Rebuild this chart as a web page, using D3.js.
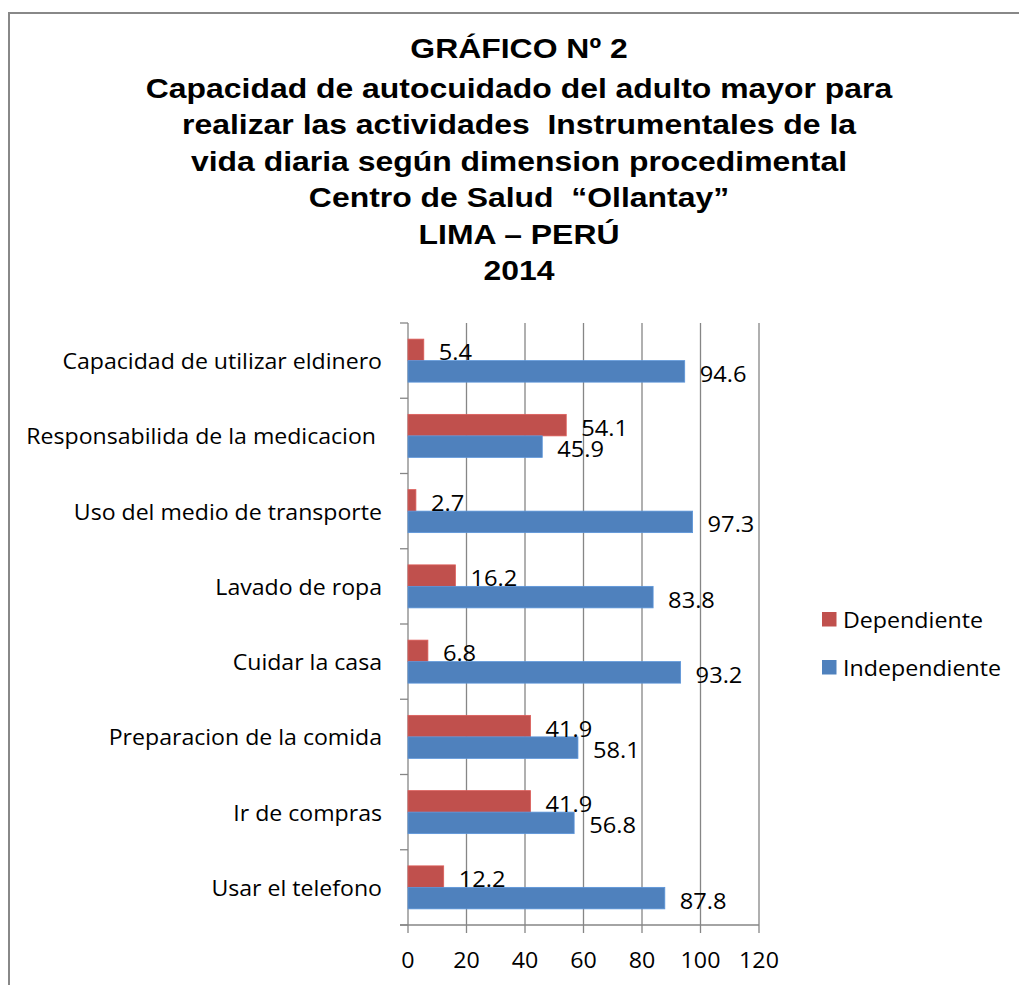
<!DOCTYPE html>
<html>
<head>
<meta charset="utf-8">
<script src="https://cdn.jsdelivr.net/npm/d3@7"></script>
<style>
  html, body { margin: 0; padding: 0; background: #fff; }
  svg { display: block; }
  text { white-space: pre; }
</style>
</head>
<body>
<svg id="chart" width="1019" height="985"></svg>
<script>
const titleLines = [
  "GRÁFICO Nº 2",
  "Capacidad de autocuidado del adulto mayor para",
  "realizar las actividades  Instrumentales de la",
  "vida diaria según dimension procedimental",
  "Centro de Salud  “Ollantay”",
  "LIMA – PERÚ",
  "2014"
];
const categories = [
  "Capacidad de utilizar eldinero",
  "Responsabilida de la medicacion ",
  "Uso del medio de transporte",
  "Lavado de ropa",
  "Cuidar la casa",
  "Preparacion de la comida",
  "Ir de compras",
  "Usar el telefono"
];
const seriesNames = ["Dependiente", "Independiente"];
const dependiente = [5.4, 54.1, 2.7, 16.2, 6.8, 41.9, 41.9, 12.2];
const independiente = [94.6, 45.9, 97.3, 83.8, 93.2, 58.1, 56.8, 87.8];
const xTicks = [0, 20, 40, 60, 80, 100, 120];
const colors = ["#C0504D", "#4F81BD"];

const svg = d3.select("#chart");
const gridColor = "#868686";
const labelFont = "'Open Sans', 'DejaVu Sans', sans-serif";

// outer border
svg.append("path")
  .attr("d", "M9,985 L9,13 L1019,13")
  .attr("fill", "none")
  .attr("stroke", "#888")
  .attr("stroke-width", 2);

// title
const titleY0 = 58, titleFirstGap = 40, titleStep = 36.4;
svg.append("g").selectAll("text")
  .data(titleLines)
  .join("text")
  .attr("transform", (d, i) => `translate(519,${i === 0 ? titleY0 : titleY0 + titleFirstGap + (i - 1) * titleStep}) scale(1.12,1)`)
  .attr("text-anchor", "middle")
  .attr("font-family", "'Liberation Sans', Arial, sans-serif")
  .attr("font-weight", "bold")
  .attr("font-size", 28.5)
  .attr("fill", "#000")
  .text(d => d);

// scales
const x = d3.scaleLinear().domain([0, 120]).range([408, 759]);
const y = d3.scaleBand().domain(categories).range([323, 925]).padding(0);
const ySub = d3.scaleBand().domain(seriesNames).range([0, y.bandwidth()])
  .paddingInner(0).paddingOuter(0.75);

// gridlines
svg.append("g").selectAll("line")
  .data(xTicks.slice(1))
  .join("line")
  .attr("x1", d => x(d)).attr("x2", d => x(d))
  .attr("y1", 323).attr("y2", 933)
  .attr("stroke", gridColor).attr("stroke-width", 1.3);

// y axis line + ticks
svg.append("line")
  .attr("x1", x(0)).attr("x2", x(0))
  .attr("y1", 323).attr("y2", 933)
  .attr("stroke", gridColor).attr("stroke-width", 1.3);
const bounds = categories.map(c => y(c)).concat([925]);
svg.append("g").selectAll("line")
  .data(bounds)
  .join("line")
  .attr("x1", 400).attr("x2", x(0))
  .attr("y1", d => d).attr("y2", d => d)
  .attr("stroke", gridColor).attr("stroke-width", 1.3);
// x axis line
svg.append("line")
  .attr("x1", 400).attr("x2", x(120))
  .attr("y1", 925).attr("y2", 925)
  .attr("stroke", gridColor).attr("stroke-width", 1.3);

// bars
const rows = categories.map((c, i) => ({ c, vals: [dependiente[i], independiente[i]] }));
const groups = svg.append("g").selectAll("g")
  .data(rows)
  .join("g")
  .attr("transform", d => `translate(0,${y(d.c)})`);

groups.selectAll("rect")
  .data(d => d.vals.map((v, j) => ({ v, s: seriesNames[j], j })))
  .join("rect")
  .attr("x", x(0))
  .attr("y", d => ySub(d.s))
  .attr("width", d => x(d.v) - x(0))
  .attr("height", ySub.bandwidth())
  .attr("fill", d => colors[d.j])
  .attr("stroke", d => d3.color(colors[d.j]).brighter(0.4))
  .attr("stroke-width", 0.8);

groups.selectAll("text")
  .data(d => d.vals.map((v, j) => ({ v, s: seriesNames[j], j })))
  .join("text")
  .attr("transform", d => `translate(${x(d.v) + 15},${ySub(d.s) + ySub.bandwidth() / 2 + 2.5}) scale(1.1,1)`)
  .attr("dominant-baseline", "central")
  .attr("font-family", labelFont)
  .attr("font-size", 21.5)
  .attr("fill", "#000")
  .text(d => d.v.toFixed(1));

// category labels
svg.append("g").selectAll("text")
  .data(categories)
  .join("text")
  .attr("transform", d => `translate(382,${y(d) + y.bandwidth() / 2}) scale(1.1,1)`)
  .attr("dominant-baseline", "central")
  .attr("text-anchor", "end")
  .attr("font-family", labelFont)
  .attr("font-size", 21)
  .attr("fill", "#000")
  .text(d => d);

// x tick labels
svg.append("g").selectAll("text")
  .data(xTicks)
  .join("text")
  .attr("transform", d => `translate(${x(d)},960) scale(1.08,1)`)
  .attr("dominant-baseline", "central")
  .attr("text-anchor", "middle")
  .attr("font-family", labelFont)
  .attr("font-size", 21.5)
  .attr("fill", "#000")
  .text(d => d);

// legend
const legend = svg.append("g").selectAll("g")
  .data(seriesNames)
  .join("g")
  .attr("transform", (d, i) => `translate(822,${612 + i * 48})`);
legend.append("rect")
  .attr("width", 14.5).attr("height", 14.5)
  .attr("fill", (d, i) => colors[i]);
legend.append("text")
  .attr("transform", "translate(21,7.5) scale(1.055,1)")
  .attr("dominant-baseline", "central")
  .attr("font-family", labelFont)
  .attr("font-size", 22)
  .attr("fill", "#000")
  .text(d => d);
</script>
</body>
</html>
